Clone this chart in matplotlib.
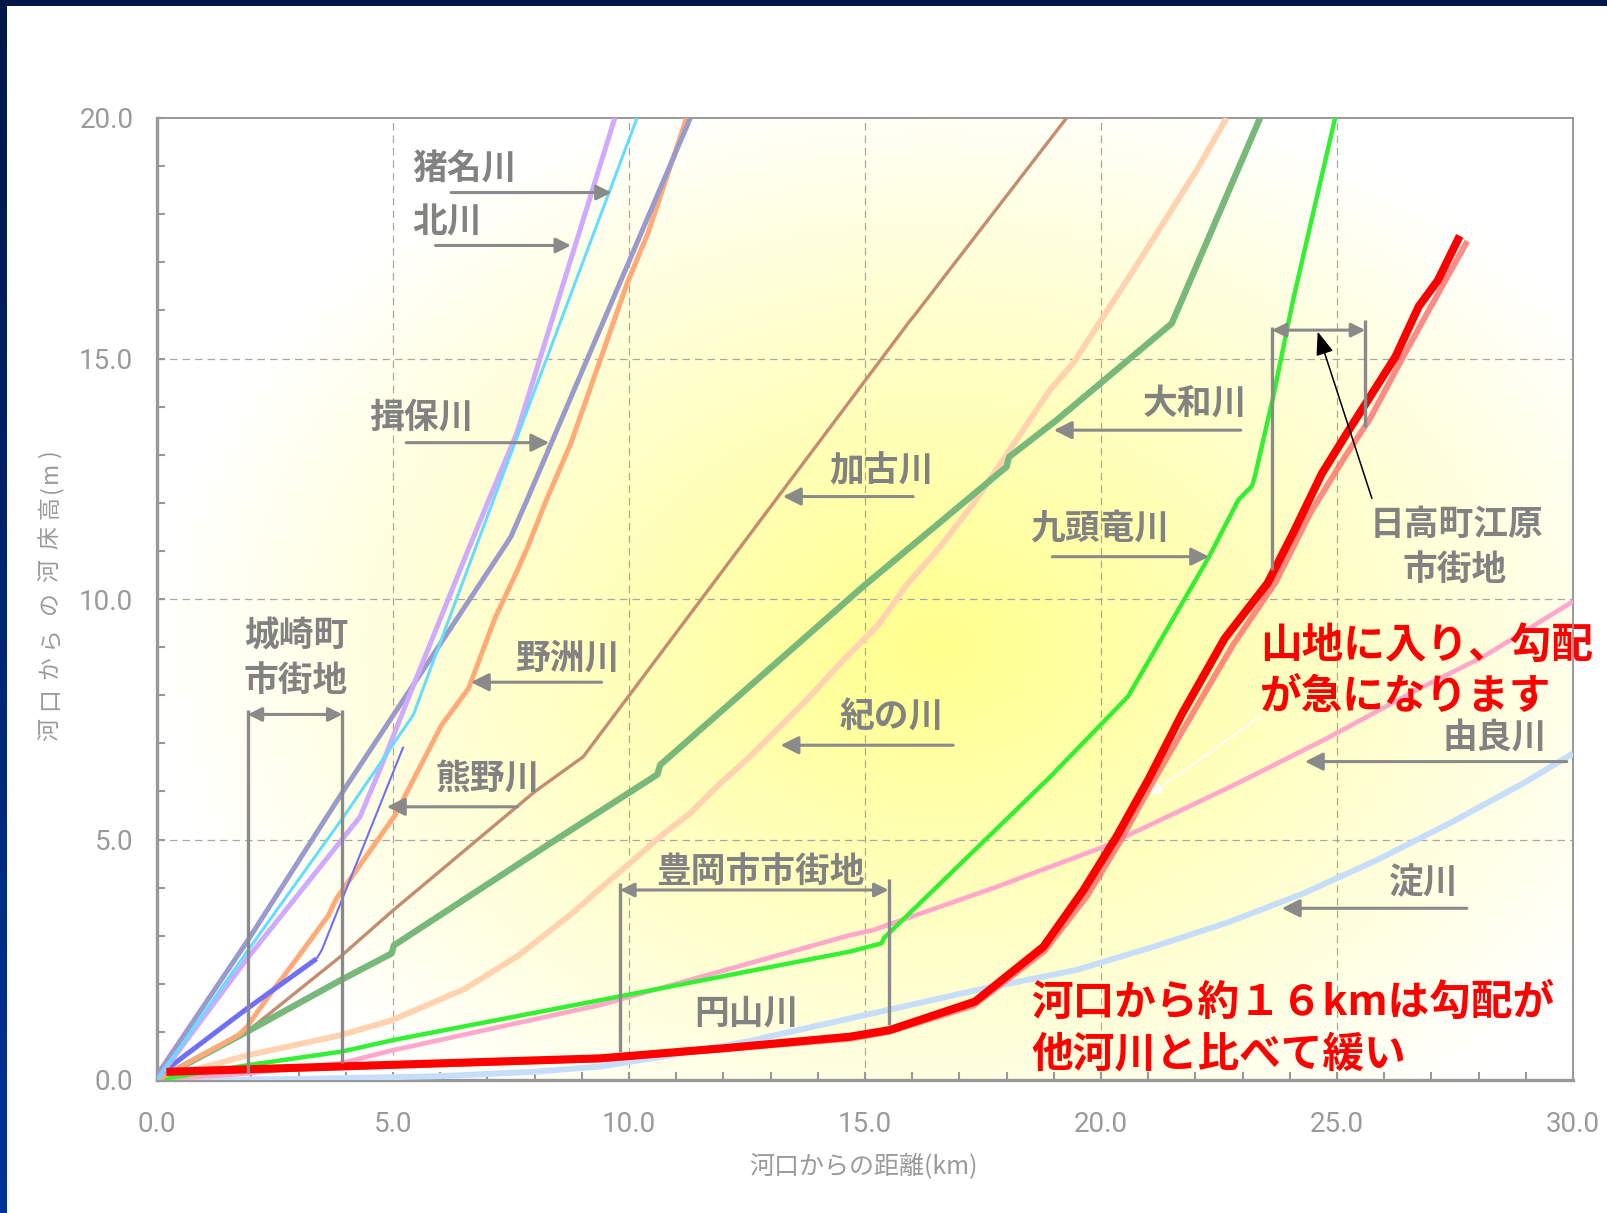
import numpy as np
import matplotlib
matplotlib.use('Agg')
import matplotlib.pyplot as plt
from matplotlib.patches import Rectangle
from matplotlib.ticker import FormatStrFormatter, MultipleLocator

W, H, DPI = 1607, 1213, 100
CJK = ['Noto Sans CJK JP', 'DejaVu Sans']

# ---------------- data (distance km, bed elevation m) ----------------
kita_x = [0.0, 1.93, 4.30, 4.75, 5.46, 6.60, 7.03, 7.62, 9.70]
kita_y = [0.0, 2.55, 5.47, 6.52, 8.27, 11.04, 12.06, 13.44, 20.0]
ina_x = [0.0, 1.93, 3.95, 5.43, 6.74, 10.17]
ina_y = [0.0, 2.70, 5.47, 7.59, 11.04, 20.0]
ibo_x = [0.0, 1.93, 3.98, 7.39, 7.50, 7.84, 11.30]
ibo_y = [0.1, 2.91, 6.06, 11.13, 11.30, 12.06, 20.0]
yasu_x = [0.0, 1.72, 1.90, 2.43, 2.99, 3.63, 3.80, 5.04, 6.03, 6.60, 7.16, 7.59, 7.84, 8.25, 8.77, 9.96, 10.40, 11.22]
yasu_y = [0.0, 0.93, 1.10, 1.83, 2.56, 3.42, 3.77, 5.50, 7.38, 8.14, 9.60, 10.50, 11.05, 12.06, 13.24, 16.56, 17.60, 20.0]
kumano_x1 = [0.0, 1.86, 3.38]
kumano_y1 = [0.07, 1.45, 2.52]
kumano_x2 = [3.38, 3.49, 5.22]
kumano_y2 = [2.52, 2.70, 6.93]
kako_x = [0.0, 1.90, 3.88, 4.97, 8.01, 9.03, 15.95, 16.05, 19.27]
kako_y = [0.0, 1.00, 2.56, 3.50, 6.00, 6.72, 15.78, 15.90, 20.0]
yamato_x = [0.0, 1.90, 3.88, 4.97, 5.02, 8.33, 10.60, 10.66, 14.96, 18.00, 18.05, 19.06, 21.50, 22.17, 23.37]
yamato_y = [0.0, 1.00, 2.07, 2.63, 2.80, 4.92, 6.35, 6.55, 10.26, 12.75, 12.95, 13.72, 15.73, 17.26, 20.0]
kino_x = [0.0, 1.90, 3.88, 4.97, 6.53, 7.66, 8.79, 9.60, 10.02, 10.66, 11.29, 11.86, 12.56, 13.20,
          13.83, 14.54, 15.28, 15.88, 16.62, 17.30, 17.97, 18.92, 19.41, 20.69, 21.36, 22.03, 22.66]
kino_y = [0.0, 0.51, 0.93, 1.24, 1.90, 2.59, 3.46, 4.16, 4.51, 5.06, 5.54, 6.10, 6.72, 7.35,
          7.97, 8.73, 9.46, 10.29, 11.12, 11.99, 12.96, 14.35, 14.90, 16.84, 17.88, 18.92, 20.0]
kuzu_x = [0.0, 1.93, 3.91, 5.00, 9.39, 14.68, 15.35, 15.40, 18.92, 20.57, 22.29, 22.91, 23.20, 23.26, 23.65, 24.07, 24.96]
kuzu_y = [0.0, 0.31, 0.59, 0.83, 1.66, 2.67, 2.84, 2.95, 6.30, 7.97, 10.88, 12.06, 12.35, 12.55, 14.21, 16.22, 20.0]
yura_x = [0.0, 1.93, 3.91, 5.00, 9.39, 14.68, 15.18, 17.72, 20.06, 22.45, 23.16, 24.78, 26.69, 28.10, 30.0]
yura_y = [0.0, 0.14, 0.35, 0.62, 1.56, 3.01, 3.12, 3.99, 4.85, 5.96, 6.30, 7.10, 8.11, 8.80, 9.95]
yodo_x = [0.0, 3.0, 6.0, 7.97, 9.39, 10.8, 12.5, 14.68, 16.1, 17.37, 19.49, 21.11, 22.73, 24.29, 25.84, 27.39, 28.95, 30.0]
yodo_y = [0.0, 0.02, 0.08, 0.17, 0.28, 0.50, 0.80, 1.28, 1.59, 1.87, 2.29, 2.77, 3.29, 3.88, 4.57, 5.34, 6.17, 6.79]
maru2_x = [0.2, 9.4, 14.7, 15.5, 17.3, 18.8, 19.7, 20.4, 21.1, 21.9, 22.8, 23.7, 24.43, 25.17, 25.7, 26.48, 27.3, 27.76]
maru2_y = [0.15, 0.43, 0.86, 1.00, 1.55, 2.68, 3.82, 4.95, 6.20, 7.55, 9.05, 10.35, 11.78, 12.96, 13.75, 15.18, 16.63, 17.44]
maru_x = [0.2, 9.39, 12.0, 14.68, 15.53, 17.33, 18.78, 19.63, 20.33, 21.0, 21.72, 22.62, 23.53, 24.1, 24.68, 25.25, 26.24, 26.73, 27.14, 27.6]
maru_y = [0.17, 0.45, 0.66, 0.90, 1.04, 1.63, 2.77, 3.95, 5.06, 6.24, 7.62, 9.18, 10.33, 11.43, 12.61, 13.51, 15.04, 16.08, 16.63, 17.55]

x_ticks = [0, 5, 10, 15, 20, 25, 30]
y_ticks = [0, 5, 10, 15, 20]
x_label = '河口からの距離(km)'
y_label = '河口からの河床高(m)'

GRAY = '#8a8a8a'
TXT = '#828282'

fig = plt.figure(figsize=(W / DPI, H / DPI), dpi=DPI)

# outer frame (navy gradient on left/top edges)
bg = fig.add_axes([0, 0, 1, 1], zorder=-10)
g = np.linspace(0, 1, 256)[:, None, None]
top = np.array([0.0, 0.09, 0.28])
bot = np.array([0.0, 0.20, 0.60])
img = top * (1 - g) + bot * g
img = np.repeat(img, 2, axis=1)
bg.imshow(img, aspect='auto', extent=[0, 1, 0, 1])
bg.add_patch(Rectangle((7 / W, 0), 1, 1 - 6 / H, color='white', lw=0))
bg.set_xlim(0, 1)
bg.set_ylim(0, 1)
bg.axis('off')

ax = fig.add_axes([157 / W, 1 - 1080 / H, 1416 / W, 962 / H])
ax.set_xlim(0, 30)
ax.set_ylim(0, 20)

# radial yellow glow
ny, nx = 240, 354
xs = np.linspace(0, 1416, nx)
ys = np.linspace(0, 962, ny)
X, Y = np.meshgrid(xs, ys)
cx, cy = 16.5 * 1416 / 30, 9.0 * 962 / 20
r = np.sqrt(((X - cx) / 780) ** 2 + ((Y - cy) / 580) ** 2)
t = np.clip(1 - r, 0, 1)
rgb = np.ones((ny, nx, 3))
rgb[..., 2] = 1 - 0.45 * t
ax.imshow(rgb, extent=[0, 30, 0, 20], origin='lower', aspect='auto', zorder=0, interpolation='bilinear')

# grid
for gx in [5, 10, 15, 20, 25]:
    ax.axvline(gx, color='#a8a8a8', lw=0.9, ls=(0, (6, 4)), zorder=1)
for gy in [5, 10, 15]:
    ax.axhline(gy, color='#a8a8a8', lw=0.9, ls=(0, (6, 4)), zorder=1)

def line(x, y, c, lw, z=3, alpha=1.0):
    ax.plot(x, y, color=c, lw=lw, zorder=z, alpha=alpha, solid_joinstyle='round', solid_capstyle='butt')

line(yodo_x, yodo_y, '#c6def9', 4.3)
line(yura_x, yura_y, '#ffa8cc', 3.4)
line(kino_x, kino_y, '#ffd3b0', 4.3)
line(kako_x, kako_y, '#c48c70', 2.4)
line(yamato_x, yamato_y, '#78b87a', 4.6)
line(kuzu_x, kuzu_y, '#33f033', 3.2)
line(yasu_x, yasu_y, '#ffaa78', 3.6)
line(kumano_x1, kumano_y1, '#6f6ff8', 3.6)
line(kumano_x2, kumano_y2, '#6f6ff8', 1.5)
line(ibo_x, ibo_y, '#9a9acc', 3.6)
line(kita_x, kita_y, '#cfaaff', 3.6)
line(ina_x, ina_y, '#66ddff', 2.2)
line(maru2_x, maru2_y, '#ff6e6e', 4.3, z=4, alpha=0.8)
line(maru_x, maru_y, '#ff0000', 5.8, z=5)

# axes styling
for s in ['left', 'bottom']:
    ax.spines[s].set_color('#999999')
    ax.spines[s].set_linewidth(2.4)
for s in ['top', 'right']:
    ax.spines[s].set_color('#999999')
    ax.spines[s].set_linewidth(1.4)
ax.set_xticks(x_ticks)
ax.set_yticks(y_ticks)
ax.xaxis.set_minor_locator(MultipleLocator(1))
ax.yaxis.set_minor_locator(MultipleLocator(1))
ax.xaxis.set_major_formatter(FormatStrFormatter('%.1f'))
ax.yaxis.set_major_formatter(FormatStrFormatter('%.1f'))
ax.tick_params(which='both', direction='in', length=6, width=1.5, color='#999999')
ax.tick_params(axis='x', which='major', pad=22)
ax.tick_params(axis='y', which='major', pad=17)
for lbl in ax.get_xticklabels() + ax.get_yticklabels():
    lbl.set_fontfamily(['Roboto', 'DejaVu Sans'])
    lbl.set_fontsize(20)
    lbl.set_color('#9a9a9a')

fig.text(863 / W, 1 - 1167 / H, x_label, ha='center', va='center', fontsize=18,
         color='#9a9a9a', family=CJK)
# y label: letter-spaced, rotated (characters placed along the axis)
ylab_centers = [730, 699, 668, 637, 603, 571, 538, 508, 489, 472, 454]
for ch, yc in zip(y_label, ylab_centers):
    fig.text(50 / W, 1 - yc / H, ch, ha='center', va='center', fontsize=16.5,
             color='#9a9a9a', family=CJK, rotation=90)

def garrow(x0, y0, x1, y1, style='-|>', c=GRAY, lw=2.2, ms=18, hl=0.6, hw=0.3):
    ax.annotate('', xy=(x1, y1), xytext=(x0, y0),
                arrowprops=dict(arrowstyle=f'{style},head_length={hl},head_width={hw}', color=c, lw=lw,
                                shrinkA=0, shrinkB=0, mutation_scale=ms), zorder=6)

def vbar(x, y0, y1):
    ax.plot([x, x], [y0, y1], color=GRAY, lw=2.4, zorder=6, solid_capstyle='butt')

def label(x, y, s, size=25, c=TXT, ha='center'):
    ax.text(x, y, s, ha=ha, va='center', fontsize=size, color=c, family=CJK, fontweight='bold', zorder=7)

# river labels with arrows
label(6.52, 18.94, '猪名川'); garrow(6.23, 18.45, 9.63, 18.45, ms=15)
label(6.14, 17.84, '北川'); garrow(5.90, 17.35, 8.77, 17.35, ms=15)
label(5.59, 13.79, '揖保川'); garrow(5.28, 13.25, 8.31, 13.25)
label(15.34, 12.66, '加古川'); garrow(16.02, 12.13, 13.26, 12.13)
label(21.99, 14.07, '大和川'); garrow(22.96, 13.51, 19.00, 13.51)
label(19.97, 11.45, '九頭竜川'); garrow(18.97, 10.88, 22.29, 10.88)
label(8.70, 8.78, '野洲川'); garrow(9.42, 8.27, 6.65, 8.27)
label(15.57, 7.54, '紀の川'); garrow(16.87, 6.96, 13.21, 6.96)
label(7.00, 6.26, '熊野川'); garrow(7.64, 5.68, 4.87, 5.68)
label(28.33, 7.11, '由良川'); garrow(29.87, 6.62, 24.32, 6.62)
label(26.81, 4.11, '淀川'); garrow(27.75, 3.57, 23.83, 3.57)
label(12.48, 1.40, '円山川')

# 城崎町市街地 bracket
label(2.94, 9.23, '城崎町')
label(2.94, 8.30, '市街地')
vbar(1.92, 0.15, 7.69)
vbar(3.93, 0.35, 7.69)
garrow(1.92, 7.60, 3.93, 7.60, style='<|-|>', ms=14)

# 豊岡市市街地 bracket
label(12.79, 4.33, '豊岡市市街地')
vbar(9.81, 0.58, 4.09)
vbar(15.50, 1.14, 4.17)
garrow(9.81, 3.95, 15.50, 3.95, style='<|-|>', ms=14)

# 日高町江原市街地 bracket
label(27.53, 11.54, '日高町江原')
label(27.50, 10.62, '市街地')
vbar(23.62, 10.60, 15.66)
vbar(25.60, 13.58, 15.81)
garrow(23.62, 15.59, 25.60, 15.59, style='<|-|>', ms=14)
garrow(25.74, 12.09, 24.59, 15.56, c='black', lw=1.1, ms=18, hl=0.8, hw=0.3)

# white pointer
garrow(23.36, 7.55, 21.04, 5.93, c='white', lw=1.3, ms=12, hl=0.6, hw=0.3)

# red annotations
label(23.37, 9.03, '山地に入り、勾配', size=30, c='#ff0000', ha='left')
label(23.37, 7.96, 'が急になります', size=30, c='#ff0000', ha='left')
label(18.53, 1.60, '河口から約１６kmは勾配が', size=30, c='#ff0000', ha='left')
label(18.53, 0.52, '他河川と比べて緩い', size=30, c='#ff0000', ha='left')

fig.savefig('out.png', dpi=DPI)
